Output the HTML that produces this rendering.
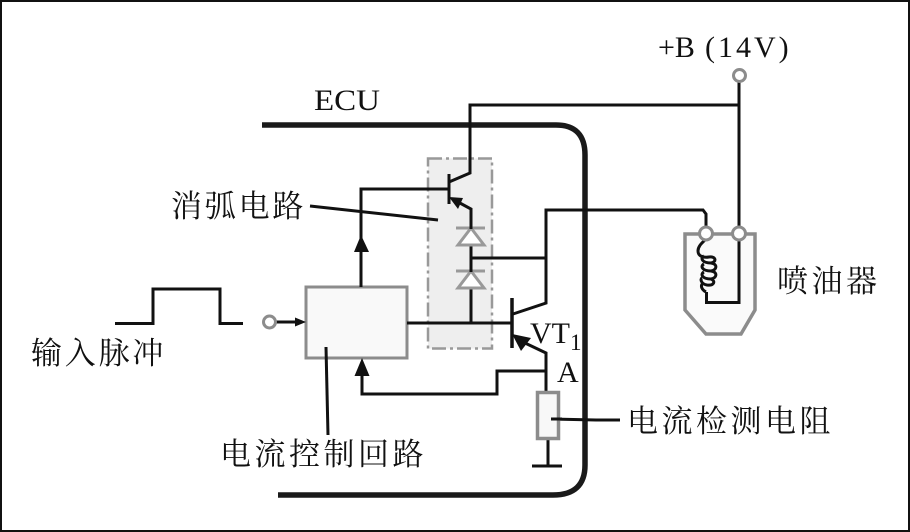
<!DOCTYPE html>
<html><head><meta charset="utf-8"><style>
html,body{margin:0;padding:0;background:#fff}
svg{display:block}
text{font-family:"Liberation Serif","Noto Serif CJK SC",serif;fill:#111}
</style></head><body>
<svg width="910" height="532" viewBox="0 0 910 532" xmlns="http://www.w3.org/2000/svg">
<rect x="1" y="1" width="908" height="530" fill="#fff" stroke="#111" stroke-width="2"/>
<!-- shaded box -->
<rect x="428" y="158.500" width="64" height="190" fill="#eeeeee" stroke="#999" stroke-width="2.500" stroke-dasharray="14 4 3 4"/>
<!-- ECU -->
<path d="M262 125H556Q585 125 585 155V465Q585 495 553 495H278" fill="none" stroke="#1a1a1a" stroke-width="5.500"/>
<!-- control box -->
<rect x="306" y="287" width="101" height="71" fill="#f9f9f9" stroke="#8c8c8c" stroke-width="3"/>
<!-- injector -->
<path d="M685 234H755V310L741 334H706L685 310Z" fill="#fafafa" stroke="#8c8c8c" stroke-width="3.500"/>
<!-- wires -->
<g fill="none" stroke="#111" stroke-width="3">
<path d="M739 81V302.500H706.500V292"/>
<path d="M739 105H470V173L449 182"/>
<path d="M449 174V204" stroke-width="3"/>
<path d="M361 287V189H449"/>
<path d="M471 225V209L458 202"/>
<path d="M471 245V323"/>
<path d="M471 258H546"/>
<path d="M407 323H512"/>
<path d="M512 298V348" stroke-width="3.500"/>
<path d="M513 314L546 303V210H703L706 214V233"/>
<path d="M525 343L546 353V392"/>
<path d="M546 371H497V394H362V375"/>
<path d="M548 439V466M532 466H562"/>
<path d="M551 419L596 420H620"/>
<path d="M326 347L328 435"/>
<path d="M310 206L438 220"/>
<path d="M115 323.500H153V289H220V323.500H243"/>
<path d="M276 322H297"/>
<path d="M706 239C702 243 698 246 698 251C698 256 703 258 709 257C716 256 717 262 711 263C702 263 700 258 704 256M711 263C718 264 717 270 711 271C702 271 700 266 704 264M711 271C718 272 717 278 711 279C702 279 700 274 704 272M711 279C716 281 714 286 707 285C701 284 700 279 702 278M702 284C700 288 704 291 706 292"/>
</g>
<!-- arrowheads -->
<path d="M306 322L295 317.500V326.500Z" fill="#111"/>
<path d="M361 235L354 252H369Z" fill="#111"/>
<path d="M362 358L354.500 376H369.500Z" fill="#111"/>
<path d="M449 197L463 198L458 209Z" fill="#111"/>
<path d="M512 334L531 338L521 351Z" fill="#111"/>
<!-- diodes -->
<g fill="#fff" stroke="#999" stroke-width="3">
<path d="M471 228L484 245H458Z"/>
<path d="M456 228H485" fill="none"/>
<path d="M471 271L484 288H458Z"/>
<path d="M456 271H485" fill="none"/>
</g>
<path d="M471 225V229M471 268V272" stroke="#111" stroke-width="3"/>
<!-- resistor -->
<rect x="537.500" y="392.500" width="21" height="46" fill="#f8f8f8" stroke="#8c8c8c" stroke-width="3.500"/>
<path d="M551 419H562" stroke="#111" stroke-width="3"/>
<!-- terminals -->
<g fill="#fff" stroke="#8c8c8c" stroke-width="3">
<circle cx="739.500" cy="75.500" r="6"/>
<circle cx="269.500" cy="322" r="6"/>
<circle cx="706" cy="233.500" r="6.500"/>
<circle cx="739" cy="233.500" r="6.500"/>
</g>
<!-- labels -->
<text x="658" y="57" font-size="30">+B</text>
<text x="705" y="57" font-size="30" letter-spacing="3">(14V)</text>
<text x="314" y="110" font-size="30" textLength="66" lengthAdjust="spacingAndGlyphs">ECU</text>
<text x="530" y="343" font-size="30">VT<tspan font-size="23" dy="7">1</tspan></text>
<text x="557" y="382" font-size="30">A</text>
<text x="171" y="217" font-size="31" letter-spacing="2.800">消弧电路</text>
<text x="31" y="364" font-size="31" letter-spacing="2.800">输入脉冲</text>
<text x="220" y="465" font-size="31" letter-spacing="3.500">电流控制回路</text>
<text x="627" y="432" font-size="31" letter-spacing="3.500">电流检测电阻</text>
<text x="777" y="292" font-size="31" letter-spacing="3.500">喷油器</text>
</svg>
</body></html>
